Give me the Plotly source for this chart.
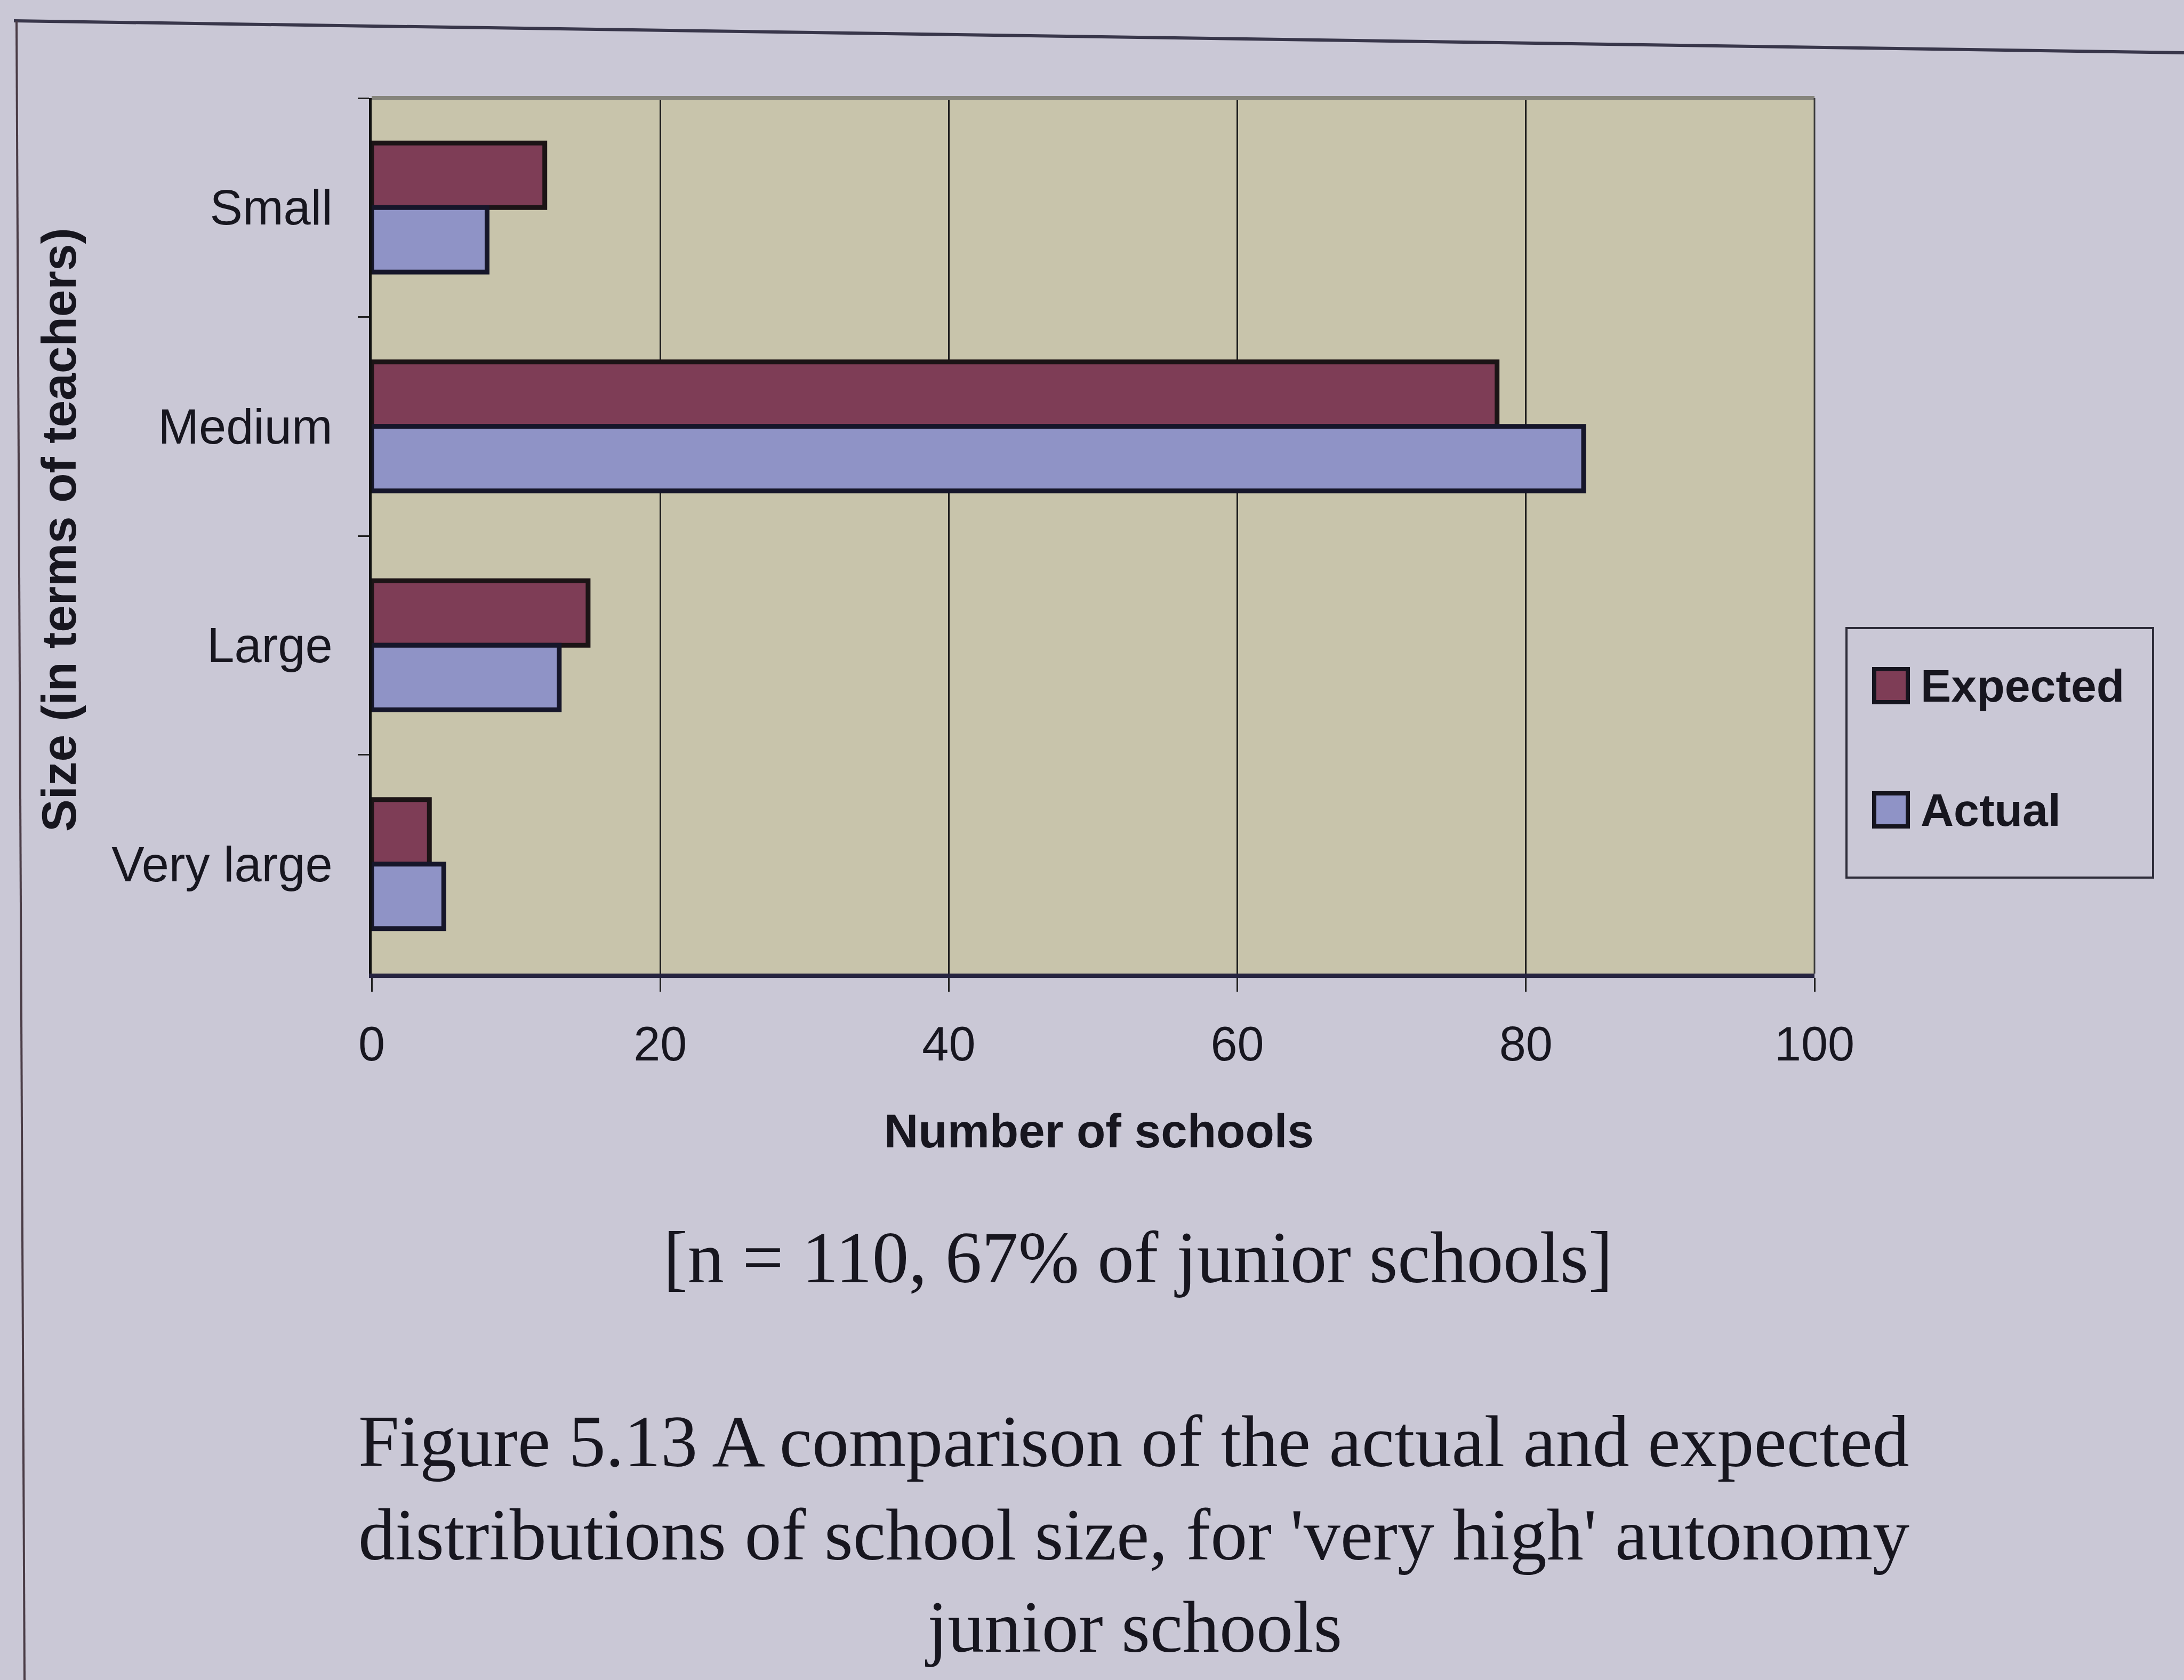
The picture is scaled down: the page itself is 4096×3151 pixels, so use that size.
import plotly.graph_objects as go

# ---- data ----
categories = ["Small", "Medium", "Large", "Very large"]
expected = [12, 78, 15, 4]
actual = [8, 84, 13, 5]
x_ticks = [0, 20, 40, 60, 80, 100]
series_names = ["Expected", "Actual"]
x_title = "Number of schools"
y_title = "Size (in terms of teachers)"
note = "[n = 110, 67% of junior schools]"
caption_lines = [
    "Figure 5.13 A comparison of the actual and expected",
    "distributions of school size, for 'very high' autonomy",
    "junior schools",
]

# ---- geometry (output pixels) ----
W, H = 4096, 3151
L, R, T, B = 697, 3403, 184, 1826


def px(x):
    return (x - L) / (R - L)


def py(y):
    return (B - y) / (B - T)


PAGE = "#CAC8D6"
PLOT = "#C8C4AB"
RED = "#7E3D56"
BLUE = "#8F93C6"
INK = "#17161f"
SANS = "Liberation Sans, Arial, sans-serif"
SERIF = "Liberation Serif, Times New Roman, serif"

fig = go.Figure()
fig.add_bar(y=categories, x=expected, orientation="h", name=series_names[0],
            marker=dict(color=RED, line=dict(color="#1c1416", width=9)))
fig.add_bar(y=categories, x=actual, orientation="h", name=series_names[1],
            marker=dict(color=BLUE, line=dict(color="#16162a", width=9)))

fig.update_layout(
    width=W, height=H,
    margin=dict(l=L, r=W - R, t=T, b=H - B, pad=0),
    paper_bgcolor=PAGE, plot_bgcolor=PLOT,
    barmode="group", bargap=0.41, bargroupgap=0,
    showlegend=False,
    font=dict(family=SANS, color=INK),
)
fig.update_xaxes(
    range=[0, 100], tickmode="array", tickvals=x_ticks,
    ticks="outside", ticklen=26, tickwidth=3, tickcolor="#222",
    showgrid=True, gridcolor="#1e1e1e", gridwidth=2.5,
    showline=True, linecolor="#262440", linewidth=8,
    zeroline=False, tickfont=dict(size=90, family=SANS, color=INK),
    ticklabelstandoff=21,
)
fig.update_yaxes(
    type="category", categoryorder="array", categoryarray=categories,
    range=[3.5, -0.5], tickson="boundaries",
    ticks="outside", ticklen=21, tickwidth=3, tickcolor="#222",
    showline=True, linecolor="#111", linewidth=5, showgrid=False,
    tickfont=dict(size=92, family=SANS, color=INK),
    ticklabelstandoff=50,
)

shapes = []
# plot area top (grey) and right border
shapes.append(dict(type="line", xref="paper", yref="paper", x0=0, x1=1, y0=1, y1=1,
                   line=dict(color="#85847c", width=8)))
shapes.append(dict(type="line", xref="paper", yref="paper", x0=1, x1=1, y0=0, y1=1,
                   line=dict(color="#3c3c3c", width=3)))
# page frame lines
shapes.append(dict(type="line", xref="paper", yref="paper", x0=px(26), y0=py(39),
                   x1=px(4096), y1=py(99), line=dict(color="#38364a", width=6)))
shapes.append(dict(type="line", xref="paper", yref="paper", x0=px(31), y0=py(39),
                   x1=px(46), y1=py(3151), line=dict(color="#4a3c46", width=4)))
# legend box
shapes.append(dict(type="rect", xref="paper", yref="paper", x0=px(3463), x1=px(4038),
                   y0=py(1646), y1=py(1178), line=dict(color="#2e2d3a", width=4),
                   fillcolor=PAGE))
# legend swatches
for cy, col in [(1286, RED), (1519, BLUE)]:
    shapes.append(dict(type="rect", xref="paper", yref="paper", x0=px(3515), x1=px(3578),
                       y0=py(cy + 31), y1=py(cy - 31), fillcolor=col,
                       line=dict(color="#15141e", width=8)))

ann = []
for cy, name in [(1286, series_names[0]), (1519, series_names[1])]:
    ann.append(dict(text="<b>%s</b>" % name, xref="paper", yref="paper", x=px(3600), y=py(cy),
                    xanchor="left", yanchor="middle", showarrow=False,
                    font=dict(size=86, family=SANS, color=INK)))
ann.append(dict(text="<b>%s</b>" % y_title, xref="paper", yref="paper", x=px(110), y=py(994),
                xanchor="center", yanchor="middle", textangle=-90, showarrow=False,
                font=dict(size=91, family=SANS, color=INK)))
ann.append(dict(text="<b>%s</b>" % x_title, xref="paper", yref="paper", x=px(2061), y=py(2121),
                xanchor="center", yanchor="middle", showarrow=False,
                font=dict(size=89, family=SANS, color=INK)))
ann.append(dict(text=note, xref="paper", yref="paper", x=px(2134), y=py(2359),
                xanchor="center", yanchor="middle", showarrow=False,
                font=dict(size=137, family=SERIF, color=INK)))
for yy, line in zip([2703, 2878, 3051], caption_lines):
    ann.append(dict(text=line, xref="paper", yref="paper", x=px(2126), y=py(yy),
                    xanchor="center", yanchor="middle", showarrow=False,
                    font=dict(size=138, family=SERIF, color=INK)))

fig.update_layout(shapes=shapes, annotations=ann)
fig.write_html("out.html")
